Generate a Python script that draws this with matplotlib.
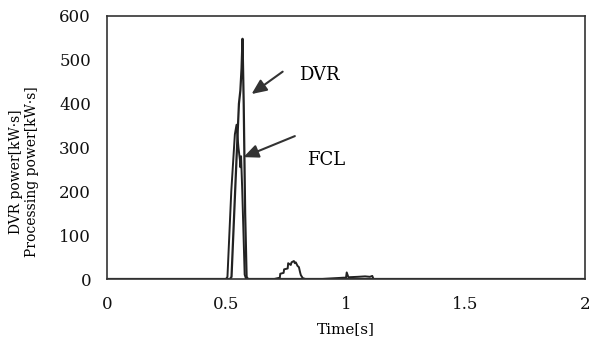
import numpy as np
import matplotlib.pyplot as plt

# DVR output power
t_dvr = [0.0, 0.515, 0.521, 0.540, 0.552, 0.558, 0.563, 0.567, 0.572, 0.578, 0.584, 0.59, 2.0]
p_dvr = [0, 0, 5, 250, 400, 430, 480, 548, 400, 150, 5, 0, 0]

# FCL processing power
t_fcl = [0.0, 0.498, 0.504, 0.520, 0.535, 0.542, 0.550, 0.556, 0.558, 0.561, 0.566, 0.576, 0.582,
         0.70, 0.723, 0.725, 0.739, 0.741, 0.756, 0.758, 0.769, 0.772, 0.782, 0.786, 0.790,
         0.797, 0.803, 0.808, 0.811, 0.819, 0.83,
         0.90, 0.96, 0.99, 1.0, 1.003, 1.01, 1.05, 1.08, 1.10, 1.11, 1.115, 2.0]
p_fcl = [0, 0, 5, 200, 330, 352, 300, 272, 255, 280, 200, 10, 0,
         0, 3, 12, 14, 22, 24, 36, 32, 38, 41, 36, 38,
         30, 27, 15, 9, 2, 0,
         0, 2, 3, 3, 15, 4, 5, 6, 5, 7, 0, 0]

xticks = [0, 0.5, 1, 1.5, 2]
xtick_labels = ['0', '0.5', '1', '1.5', '2']
yticks = [0, 100, 200, 300, 400, 500, 600]

plt.rcParams['font.family'] = ['DejaVu Serif']

fig = plt.figure(figsize=(5.9, 3.54), dpi=100)
ax = fig.add_axes([107 / 590, 1 - 279 / 354, (585 - 107) / 590, (279 - 16) / 354])

ax.plot(t_dvr, p_dvr, color='#222222', linewidth=1.6)
ax.plot(t_fcl, p_fcl, color='#222222', linewidth=1.4)

ax.set_xlim(0, 2)
ax.set_ylim(0, 600)
ax.set_xticks(xticks)
ax.set_xticklabels(xtick_labels)
ax.set_yticks(yticks)
ax.tick_params(length=0, labelsize=12, colors='#111111')
ax.tick_params(axis='x', pad=12)
ax.tick_params(axis='y', pad=11.5)
for s in ax.spines.values():
    s.set_linewidth(1.2)
    s.set_color('#333333')

ax.set_xlabel('Time[s]', fontsize=11, labelpad=7)
fig.text(24 / 590, 1 - 172 / 354, 'DVR power[kW\u00b7s]\nProcessing power[kW\u00b7s]',
         fontsize=10, rotation=90, ha='center', va='center', multialignment='center',
         linespacing=1.15)

# labels with arrows pointing at the two curves
arrow = dict(arrowstyle='-|>,head_length=0.9,head_width=0.4', color='#333333',
             linewidth=1.5, shrinkA=0, shrinkB=0)
ax.annotate('', xy=(0.605, 422), xytext=(0.735, 473), arrowprops=arrow)
ax.annotate('', xy=(0.571, 278), xytext=(0.786, 326), arrowprops=arrow)
ax.text(0.803, 466, 'DVR', fontsize=13, va='center', ha='left')
ax.text(0.836, 272, 'FCL', fontsize=13, va='center', ha='left')

fig.savefig('out.png', dpi=100)
